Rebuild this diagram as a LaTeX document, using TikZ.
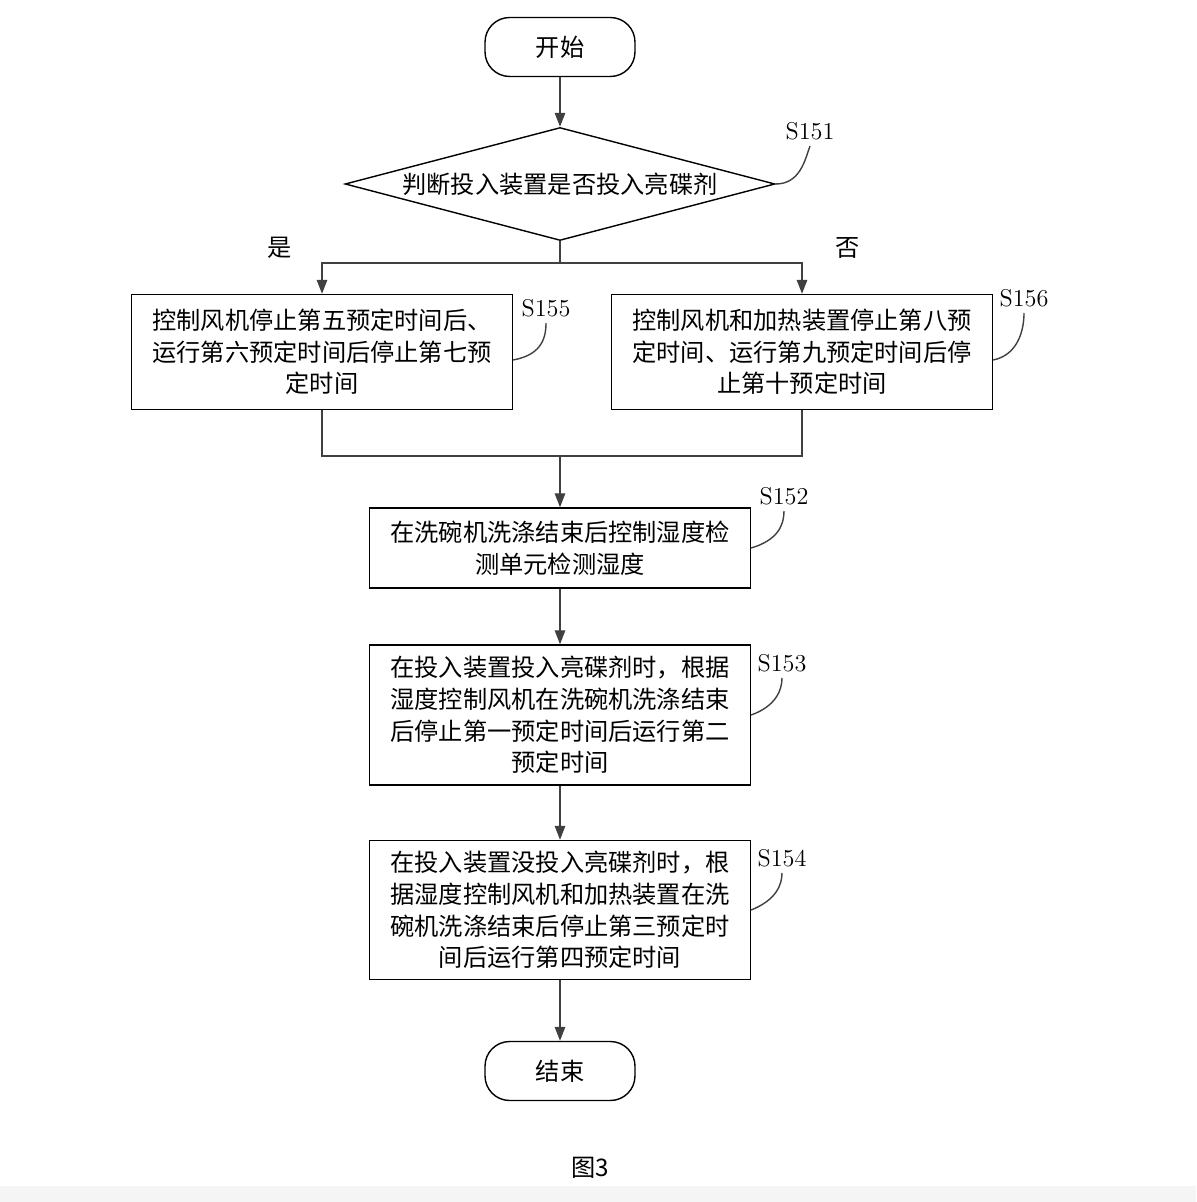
\documentclass[tikz,border=0pt]{standalone}
\usepackage{fontspec}
\newfontfamily\cjk{Noto Sans CJK SC}
\usetikzlibrary{arrows.meta,positioning,shapes.geometric}

\begin{document}
\begin{tikzpicture}[x=0.02cm,y=-0.02cm,
          every node/.style={font=\cjk\fontsize{13.8}{18}\selectfont},
          term/.style={draw,thick,rounded corners=14,minimum width=3cm,minimum height=1.18cm,inner sep=0pt},
          box/.style={draw,thick,minimum width=7.62cm,align=center,inner sep=0pt},
          lab/.style={font=\fontsize{13.8}{16}\selectfont},
          line/.style={thick,draw=black!75},
          flow/.style={line,-{Triangle[length=8pt,width=6pt]}}
        ]
        \useasboundingbox (0,0) rectangle (1196,1202);
        \fill[black!4] (0,1186) rectangle (1196,1202);

        \node[term] (start) at (560,47) {开始};
        \node[draw,thick,diamond,aspect=3.8,minimum width=8.6cm,minimum height=2.26cm,inner sep=0pt] (judge) at (560,184) {判断投入装置是否投入亮碟剂};
        \node[box,minimum height=2.3cm] (s155) at (322,352) {控制风机停止第五预定时间后、\\运行第六预定时间后停止第七预\\定时间};
        \node[box,minimum height=2.3cm] (s156) at (802,352) {控制风机和加热装置停止第八预\\定时间、运行第九预定时间后停\\止第十预定时间};
        \node[box,minimum height=1.6cm] (s152) at (560,548) {在洗碗机洗涤结束后控制湿度检\\测单元检测湿度};
        \node[box,minimum height=2.8cm] (s153) at (560,715) {在投入装置投入亮碟剂时，根据\\湿度控制风机在洗碗机洗涤结束\\后停止第一预定时间后运行第二\\预定时间};
        \node[box,minimum height=2.78cm] (s154) at (560,910) {在投入装置没投入亮碟剂时，根\\据湿度控制风机和加热装置在洗\\碗机洗涤结束后停止第三预定时\\间后运行第四预定时间};
        \node[term] (end) at (560,1071) {结束};

        %labels
        \node[lab] (l151) at (810,131) {S151};
        \node[lab] (l155) at (546,308) {S155};
        \node[lab] (l156) at (1024,298) {S156};
        \node[lab] (l152) at (784,496) {S152};
        \node[lab] (l153) at (782,663) {S153};
        \node[lab] (l154) at (782,858) {S154};
        \node (yes) at (280,248) {是};
        \node (no) at (848,248) {否};
        \node (fig) at (590,1168) {图3};

        %callouts
        \draw[line] (judge.east) .. controls (800,184) and (805,160) .. (l151.south);
        \draw[line] (s155.east |- 0,360) .. controls (540,355) and (546,340) .. (l155.south);
        \draw[line] (s156.east |- 0,360) .. controls (1018,355) and (1024,330) .. (l156.south);
        \draw[line] (s152.east |- 0,548) .. controls (778,540) and (784,525) .. (l152.south);
        \draw[line] (s153.east |- 0,715) .. controls (776,706) and (782,690) .. (l153.south);
        \draw[line] (s154.east |- 0,910) .. controls (776,900) and (782,885) .. (l154.south);

        %flow
        \coordinate (split) at (560,263);
        \coordinate (merge) at (560,456);
        \draw[flow] (start) -- (judge);
        \draw[line] (judge.south) -- (split);
        \draw[flow] (split) -| (s155.north);
        \draw[flow] (split) -| (s156.north);
        \draw[line] (s155.south) |- (merge);
        \draw[line] (s156.south) |- (merge);
        \draw[flow] (merge) -- (s152);
        \draw[flow] (s152) -- (s153);
        \draw[flow] (s153) -- (s154);
        \draw[flow] (s154) -- (end);
\end{tikzpicture}
\end{document}
